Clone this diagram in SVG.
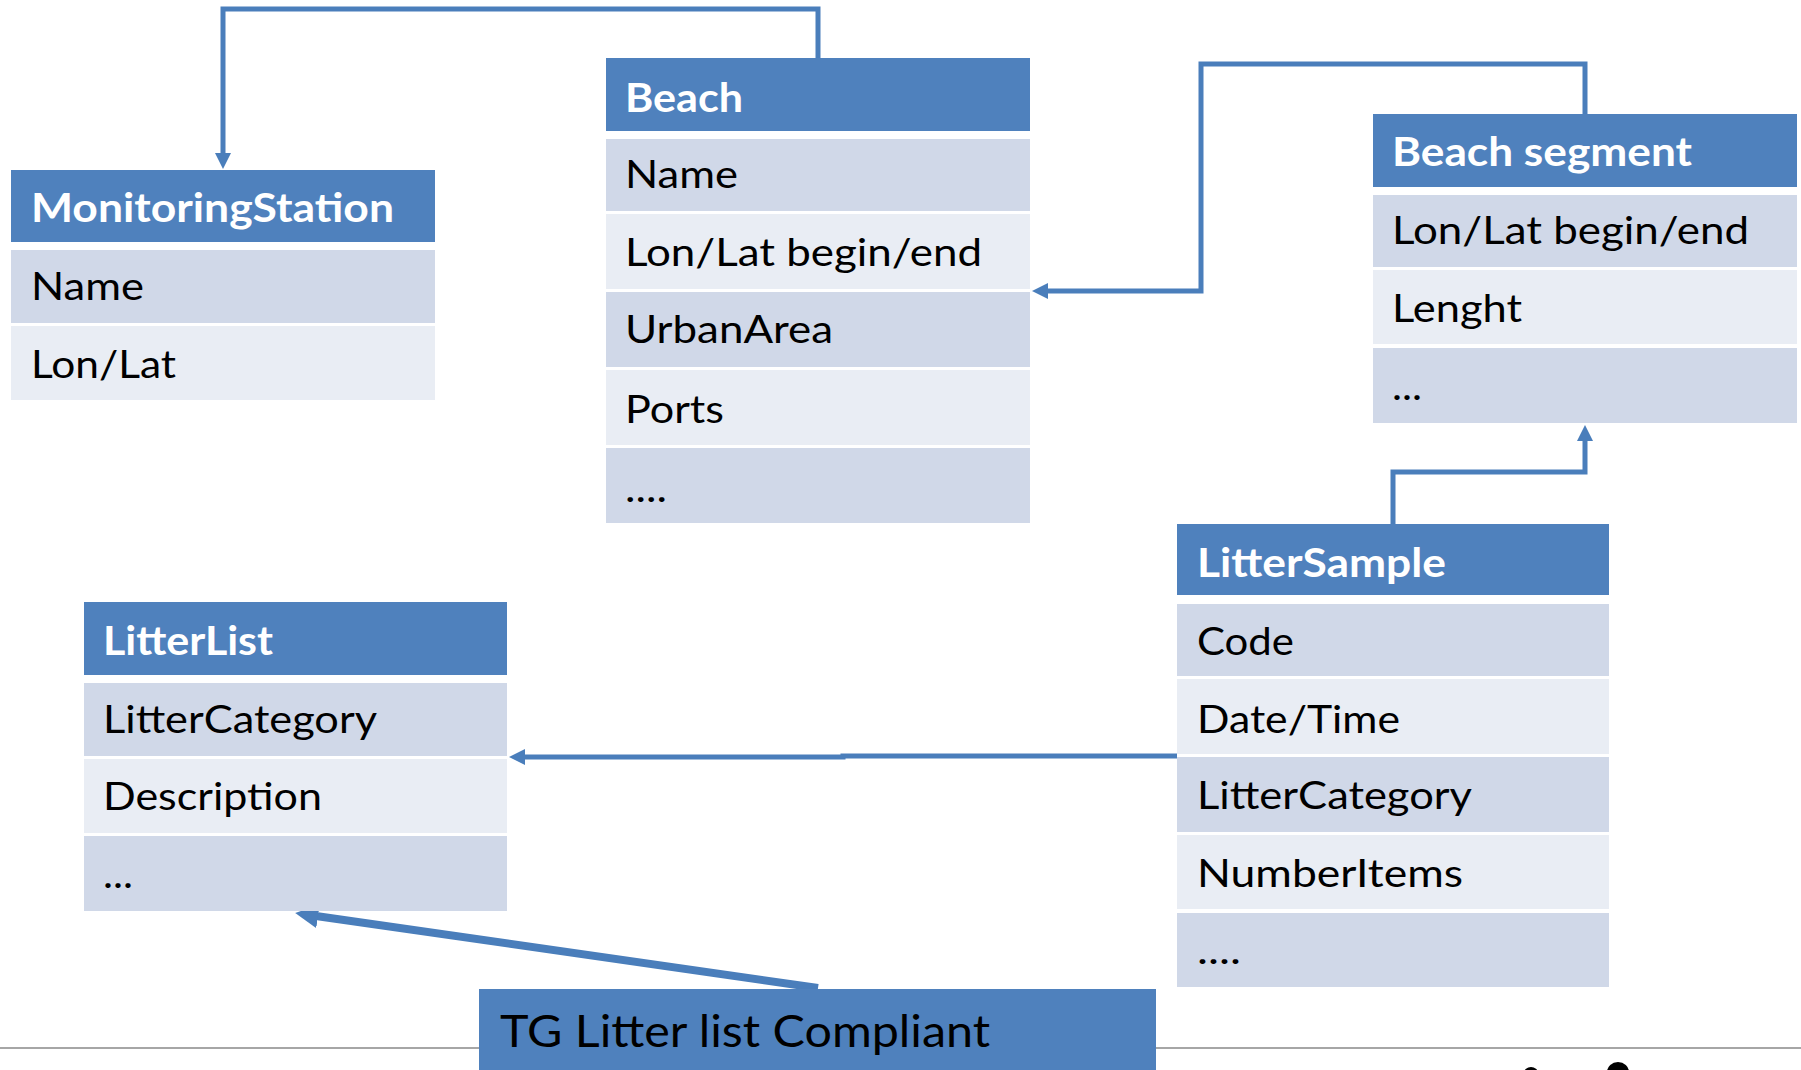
<svg xmlns="http://www.w3.org/2000/svg" width="1801" height="1070" viewBox="0 0 1801 1070">
<style>
.hd{fill:#4F81BD}
.rd{fill:#D0D8E8}
.rl{fill:#E9EDF4}
.ht{font-family:Lato,"Open Sans",sans-serif;font-weight:bold;font-size:39.5px;fill:#FFFFFF}
.t{font-family:Lato,"Open Sans",sans-serif;font-size:39.5px;fill:#000000}
.tg{font-family:Lato,"Open Sans",sans-serif;font-size:44px;fill:#000000}
.cn{fill:none;stroke:#4A7EBB;stroke-width:5}
.cnb{fill:none;stroke:#4A7EBB;stroke-width:8}
</style>
<defs>
<marker id="ah" markerUnits="userSpaceOnUse" markerWidth="16" markerHeight="16" refX="2" refY="8" orient="auto" viewBox="0 0 16 16">
<path d="M0,0 L16,8 L0,16 z" fill="#4A7EBB"/>
</marker>
<marker id="ahb" markerUnits="userSpaceOnUse" markerWidth="24" markerHeight="24" refX="2" refY="12" orient="auto" viewBox="0 0 24 24">
<path d="M0,0 L23,12 L0,24 z" fill="#4A7EBB"/>
</marker>
</defs>
<rect width="1801" height="1070" fill="#FFFFFF"/>
<line x1="0" y1="1048" x2="1801" y2="1048" stroke="#A6A6A6" stroke-width="2"/>
<ellipse cx="1531" cy="1073" rx="7" ry="6" fill="#000000"/>
<ellipse cx="1618" cy="1072" rx="11" ry="10" fill="#000000"/>

<g id="connectors">
<path class="cn" d="M818,58 V9 H223 V155" marker-end="url(#ah)"/>
<path class="cn" d="M1585,114 V64 H1201 V291 H1046" marker-end="url(#ah)"/>
<path class="cn" d="M1393,524 V472 H1585 V439" marker-end="url(#ah)"/>
<path class="cn" d="M1177,756 H843 V757 H523" marker-end="url(#ah)"/>
<path class="cnb" d="M818,988 L316,916" marker-end="url(#ahb)"/>
</g>

<g id="MonitoringStation">
<rect class="hd" x="11" y="170" width="424" height="72"/>
<text class="ht" x="31" y="222" textLength="363" lengthAdjust="spacingAndGlyphs">MonitoringStation</text>
<rect class="rd" x="11" y="250" width="424" height="73"/>
<text class="t" x="31" y="300" textLength="113" lengthAdjust="spacingAndGlyphs">Name</text>
<rect class="rl" x="11" y="326" width="424" height="74"/>
<text class="t" x="31" y="378" textLength="145" lengthAdjust="spacingAndGlyphs">Lon/Lat</text>
</g>

<g id="Beach">
<rect class="hd" x="606" y="58" width="424" height="73"/>
<text class="ht" x="625" y="112" textLength="118" lengthAdjust="spacingAndGlyphs">Beach</text>
<rect class="rd" x="606" y="139" width="424" height="72"/>
<text class="t" x="625" y="188" textLength="113" lengthAdjust="spacingAndGlyphs">Name</text>
<rect class="rl" x="606" y="214" width="424" height="75"/>
<text class="t" x="625" y="266" textLength="357" lengthAdjust="spacingAndGlyphs">Lon/Lat begin/end</text>
<rect class="rd" x="606" y="292" width="424" height="75"/>
<text class="t" x="625" y="343" textLength="208" lengthAdjust="spacingAndGlyphs">UrbanArea</text>
<rect class="rl" x="606" y="370" width="424" height="75"/>
<text class="t" x="625" y="423" textLength="99" lengthAdjust="spacingAndGlyphs">Ports</text>
<rect class="rd" x="606" y="448" width="424" height="75"/>
<text class="t" x="625" y="502" textLength="42" lengthAdjust="spacingAndGlyphs">....</text>
</g>

<g id="BeachSegment">
<rect class="hd" x="1373" y="114" width="424" height="73"/>
<text class="ht" x="1392" y="166" textLength="300" lengthAdjust="spacingAndGlyphs">Beach segment</text>
<rect class="rd" x="1373" y="195" width="424" height="72"/>
<text class="t" x="1392" y="244" textLength="357" lengthAdjust="spacingAndGlyphs">Lon/Lat begin/end</text>
<rect class="rl" x="1373" y="270" width="424" height="74"/>
<text class="t" x="1392" y="322" textLength="130" lengthAdjust="spacingAndGlyphs">Lenght</text>
<rect class="rd" x="1373" y="348" width="424" height="75"/>
<text class="t" x="1392" y="400" textLength="30" lengthAdjust="spacingAndGlyphs">...</text>
</g>

<g id="LitterList">
<rect class="hd" x="84" y="602" width="423" height="73"/>
<text class="ht" x="103" y="655" textLength="170" lengthAdjust="spacingAndGlyphs">LitterList</text>
<rect class="rd" x="84" y="683" width="423" height="73"/>
<text class="t" x="103" y="733" textLength="274" lengthAdjust="spacingAndGlyphs">LitterCategory</text>
<rect class="rl" x="84" y="759" width="423" height="74"/>
<text class="t" x="103" y="810" textLength="219" lengthAdjust="spacingAndGlyphs">Description</text>
<rect class="rd" x="84" y="836" width="423" height="75"/>
<text class="t" x="103" y="888" textLength="30" lengthAdjust="spacingAndGlyphs">...</text>
</g>

<g id="LitterSample">
<rect class="hd" x="1177" y="524" width="432" height="71"/>
<text class="ht" x="1197" y="577" textLength="249" lengthAdjust="spacingAndGlyphs">LitterSample</text>
<rect class="rd" x="1177" y="604" width="432" height="72"/>
<text class="t" x="1197" y="655" textLength="97" lengthAdjust="spacingAndGlyphs">Code</text>
<rect class="rl" x="1177" y="679" width="432" height="75"/>
<text class="t" x="1197" y="733" textLength="203" lengthAdjust="spacingAndGlyphs">Date/Time</text>
<rect class="rd" x="1177" y="757" width="432" height="75"/>
<text class="t" x="1197" y="809" textLength="275" lengthAdjust="spacingAndGlyphs">LitterCategory</text>
<rect class="rl" x="1177" y="835" width="432" height="74"/>
<text class="t" x="1197" y="887" textLength="266" lengthAdjust="spacingAndGlyphs">NumberItems</text>
<rect class="rd" x="1177" y="913" width="432" height="74"/>
<text class="t" x="1197" y="964" textLength="44" lengthAdjust="spacingAndGlyphs">....</text>
</g>

<g id="TGLitterListCompliant">
<rect class="hd" x="479" y="989" width="677" height="81"/>
<text class="tg" x="500" y="1047" textLength="490" lengthAdjust="spacingAndGlyphs">TG Litter list Compliant</text>
</g>
</svg>
